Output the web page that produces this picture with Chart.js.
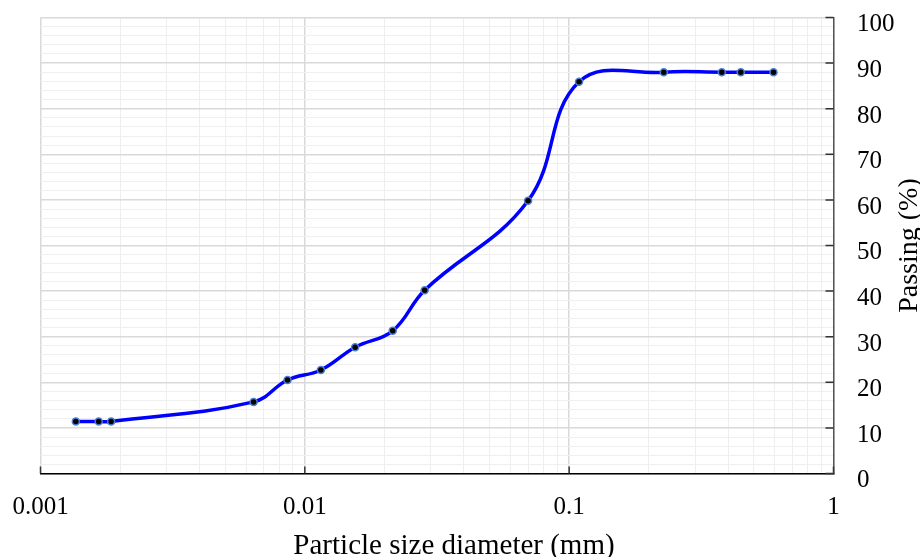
<!DOCTYPE html>
<html>
<head>
<meta charset="utf-8">
<script src="https://cdn.jsdelivr.net/npm/chart.js@4/dist/chart.umd.min.js"></script>
<style>
  html, body { margin: 0; padding: 0; background: #fff; }
  #wrap { width: 920px; height: 557px; }
</style>
</head>
<body>
<div id="wrap"><canvas id="psdChart"></canvas></div>
<script>
// particle size distribution
const sizes = [0.00136, 0.00166, 0.00185, 0.0064, 0.0086, 0.0115, 0.0155, 0.0215, 0.0284, 0.0699, 0.109, 0.228, 0.378, 0.446, 0.593];
const passing = [11.4, 11.4, 11.4, 15.7, 20.5, 22.7, 27.7, 31.3, 40.2, 59.8, 85.9, 88, 88, 88, 88];

const xTickValues = [0.001, 0.01, 0.1, 1];
const xTickLabels = ['0.001', '0.01', '0.1', '1'];
const yTickValues = [0, 10, 20, 30, 40, 50, 60, 70, 80, 90, 100];
const yTickLabels = ['0', '10', '20', '30', '40', '50', '60', '70', '80', '90', '100'];
const xTitle = 'Particle size diameter (mm)';
const yTitle = 'Passing (%)';

const FONT = '"Liberation Serif", "Times New Roman", serif';

// minor grid: 2..9 in each decade
const xGrid = [];
xTickValues.forEach((d, i) => {
  xGrid.push(d);
  if (i < xTickValues.length - 1) {
    for (let k = 2; k <= 9; k++) xGrid.push(d * k);
  }
});

function isDecade(v) {
  return xTickValues.some(d => Math.abs(Math.log10(v) - Math.log10(d)) < 1e-6);
}

// inward tick marks, tick labels and axis titles
const frame = {
  id: 'frame',
  afterDraw(chart) {
    const { ctx, chartArea: a, scales } = chart;
    ctx.save();
    ctx.strokeStyle = '#333';
    ctx.lineWidth = 1.5;
    ctx.beginPath();
    xTickValues.forEach(v => {
      const px = scales.x.getPixelForValue(v);
      ctx.moveTo(px, a.bottom);
      ctx.lineTo(px, a.bottom - 7);
    });
    yTickValues.forEach(v => {
      const py = scales.y.getPixelForValue(v);
      ctx.moveTo(a.right, py);
      ctx.lineTo(a.right - 8, py);
    });
    ctx.stroke();

    ctx.fillStyle = '#000';
    ctx.font = '25px ' + FONT;
    ctx.textBaseline = 'alphabetic';
    ctx.textAlign = 'center';
    xTickValues.forEach((v, i) => {
      ctx.fillText(xTickLabels[i], scales.x.getPixelForValue(v), a.bottom + 40.5);
    });
    ctx.textAlign = 'left';
    yTickValues.forEach((v, i) => {
      ctx.fillText(yTickLabels[i], a.right + 23.5, scales.y.getPixelForValue(v) + 13.8);
    });

    ctx.font = '29px ' + FONT;
    ctx.textAlign = 'center';
    ctx.fillText(xTitle, chart.width / 2 - 6, 554);
    ctx.translate(917, (a.top + a.bottom) / 2);
    ctx.rotate(-Math.PI / 2);
    ctx.font = '28px ' + FONT;
    ctx.fillText(yTitle, 0, 0);
    ctx.restore();
  }
};

new Chart(document.getElementById('psdChart'), {
  type: 'scatter',
  data: {
    datasets: [{
      data: sizes.map((s, i) => ({ x: s, y: passing[i] })),
      showLine: true,
      borderColor: '#0000ff',
      borderWidth: 3.5,
      tension: 0.4,
      pointRadius: 3.5,
      pointBorderWidth: 1.5,
      pointBackgroundColor: '#000',
      pointBorderColor: '#4a7fd4'
    }]
  },
  options: {
    responsive: true,
    maintainAspectRatio: false,
    animation: false,
    layout: { padding: { left: 40.5, top: 17.5, right: 0, bottom: 0 } },
    plugins: { legend: { display: false }, tooltip: { enabled: false } },
    scales: {
      x: {
        type: 'logarithmic',
        min: 0.001,
        max: 1,
        afterBuildTicks: scale => { scale.ticks = xGrid.map(v => ({ value: v })); },
        afterFit: scale => { scale.height = 83.5; },
        ticks: { display: false, autoSkip: false },
        grid: {
          drawTicks: false,
          color: c => isDecade(c.tick.value) ? '#d9d9d9' : '#efefef',
          lineWidth: c => isDecade(c.tick.value) ? 1.5 : 1
        },
        border: { color: '#000', width: 1.5 }
      },
      y: {
        position: 'right',
        min: 0,
        max: 100,
        afterFit: scale => { scale.width = 86.5; },
        ticks: { display: false, stepSize: 2, autoSkip: false },
        grid: {
          drawTicks: false,
          color: c => c.tick.value % 10 === 0 ? '#d9d9d9' : '#efefef',
          lineWidth: c => c.tick.value % 10 === 0 ? 1.5 : 1
        },
        border: { color: '#555', width: 1.5 }
      }
    }
  },
  plugins: [frame]
});
</script>
</body>
</html>
